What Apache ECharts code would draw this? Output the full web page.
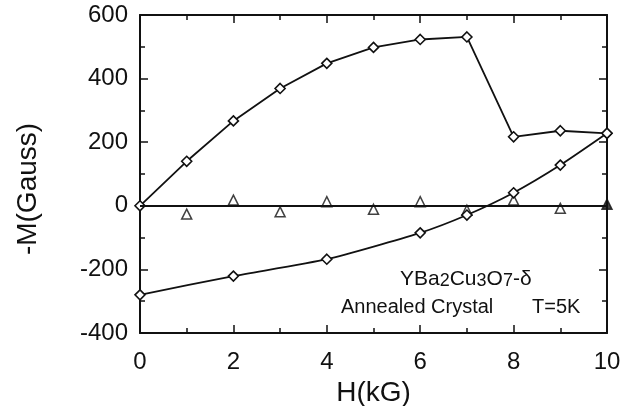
<!DOCTYPE html>
<html>
<head>
<meta charset="utf-8">
<script src="https://cdn.jsdelivr.net/npm/echarts@6/dist/echarts.min.js"></script>
<style>
  html, body { margin: 0; padding: 0; background: #fff; }
  #main { width: 628px; height: 406px; }
</style>
</head>
<body>
<div id="main"></div>
<script>
// 上升支 (菱形)
let hUp = [0, 1, 2, 3, 4, 5, 6, 7, 8, 9, 10]
let mUp = [0, 140, 267, 369, 448, 498, 523, 531, 217, 236, 228]
// 下降支
let hDown = [0, 2, 4, 6, 7, 8, 9, 10]
let mDown = [-280, -221, -168, -85, -29, 41, 128, 228]
// 三角形
let hTri = [1, 2, 3, 4, 5, 6, 7, 8, 9, 10]
let mTri = [-26, 18, -19, 13, -11, 13, -14, 18, -8, 5]
// 坐标轴
let xTicks = [0, 2, 4, 6, 8, 10]
let yTicks = [-400, -200, 0, 200, 400, 600]

let font = '"Liberation Sans", Arial, Helvetica, sans-serif'
let ink = '#111'

let pair = (xs, ys) => xs.map((x, i) => [x, ys[i]])

let baseAxis = {
  axisLine: { onZero: false, lineStyle: { color: ink, width: 2 } },
  axisTick: { inside: true, length: 8, lineStyle: { color: ink, width: 1.5 } },
  minorTick: { show: true, splitNumber: 2, length: 5, lineStyle: { color: ink, width: 1.5 } },
  splitLine: { show: false }
}

let xAxisBase = {
  ...baseAxis, type: 'value',
  min: xTicks[0], max: xTicks[xTicks.length - 1], interval: xTicks[1] - xTicks[0]
}
let yAxisBase = {
  ...baseAxis, type: 'value',
  min: yTicks[0], max: yTicks[yTicks.length - 1], interval: yTicks[1] - yTicks[0]
}

let myChart = echarts.init(document.getElementById('main'))
let option = {
  animation: false,
  backgroundColor: '#fff',
  grid: { left: 140, right: 21, top: 15, bottom: 73, outerBoundsMode: 'none', containLabel: false },
  xAxis: [{
    ...xAxisBase,
    position: 'bottom',
    name: 'H(kG)',
    nameLocation: 'middle',
    nameGap: 46,
    nameTextStyle: { fontFamily: font, fontSize: 28, color: ink },
    axisLabel: { margin: 17, fontFamily: font, fontSize: 24, color: ink }
  }, {
    ...xAxisBase,
    position: 'top',
    axisLabel: { show: false }
  }],
  yAxis: [{
    ...yAxisBase,
    position: 'left',
    name: '-M(Gauss)',
    nameLocation: 'middle',
    nameGap: 98,
    nameTextStyle: { fontFamily: font, fontSize: 28, color: ink, padding: [0, 30, 0, 0] },
    axisLabel: { margin: 12, fontFamily: font, fontSize: 24, color: ink }
  }, {
    ...yAxisBase,
    position: 'right',
    axisLabel: { show: false }
  }],
  series: [{
    type: 'line',
    data: pair(hUp, mUp),
    symbol: 'diamond',
    symbolSize: 10,
    lineStyle: { color: ink, width: 1.8 },
    itemStyle: { color: '#fff', borderColor: ink, borderWidth: 1.6 },
    z: 3
  }, {
    type: 'line',
    data: pair(hDown, mDown),
    symbol: 'diamond',
    symbolSize: 10,
    smooth: 0.2,
    lineStyle: { color: ink, width: 1.8 },
    itemStyle: { color: '#fff', borderColor: ink, borderWidth: 1.6 },
    z: 3
  }, {
    type: 'scatter',
    data: pair(hTri, mTri).map((p, i) => i === hTri.length - 1
      ? { value: p, itemStyle: { color: ink } } : p),
    symbol: 'triangle',
    symbolSize: 10,
    itemStyle: { color: '#fff', borderColor: ink, borderWidth: 1.5 },
    markLine: {
      silent: true,
      symbol: 'none',
      label: { show: false },
      lineStyle: { color: ink, width: 1.8, type: 'solid' },
      data: [[{ coord: [0, 0] }, { coord: [10, 0] }]]
    },
    z: 2
  }],
  graphic: [{
    type: 'text',
    left: 400, top: 269,
    style: {
      text: 'YBa{s|2}Cu{s|3}O{s|7}-δ',
      fontFamily: font, fontSize: 21, fill: ink,
      rich: {
        s: { fontFamily: font, fontSize: 18, fill: ink, verticalAlign: 'bottom', lineHeight: 18 }
      }
    }
  }, {
    type: 'text',
    left: 341, top: 297,
    style: { text: 'Annealed Crystal', fontFamily: font, fontSize: 20, fill: ink }
  }, {
    type: 'text',
    left: 532, top: 297,
    style: { text: 'T=5K', fontFamily: font, fontSize: 20, fill: ink }
  }]
}
myChart.setOption(option, true)
</script>
</body>
</html>
